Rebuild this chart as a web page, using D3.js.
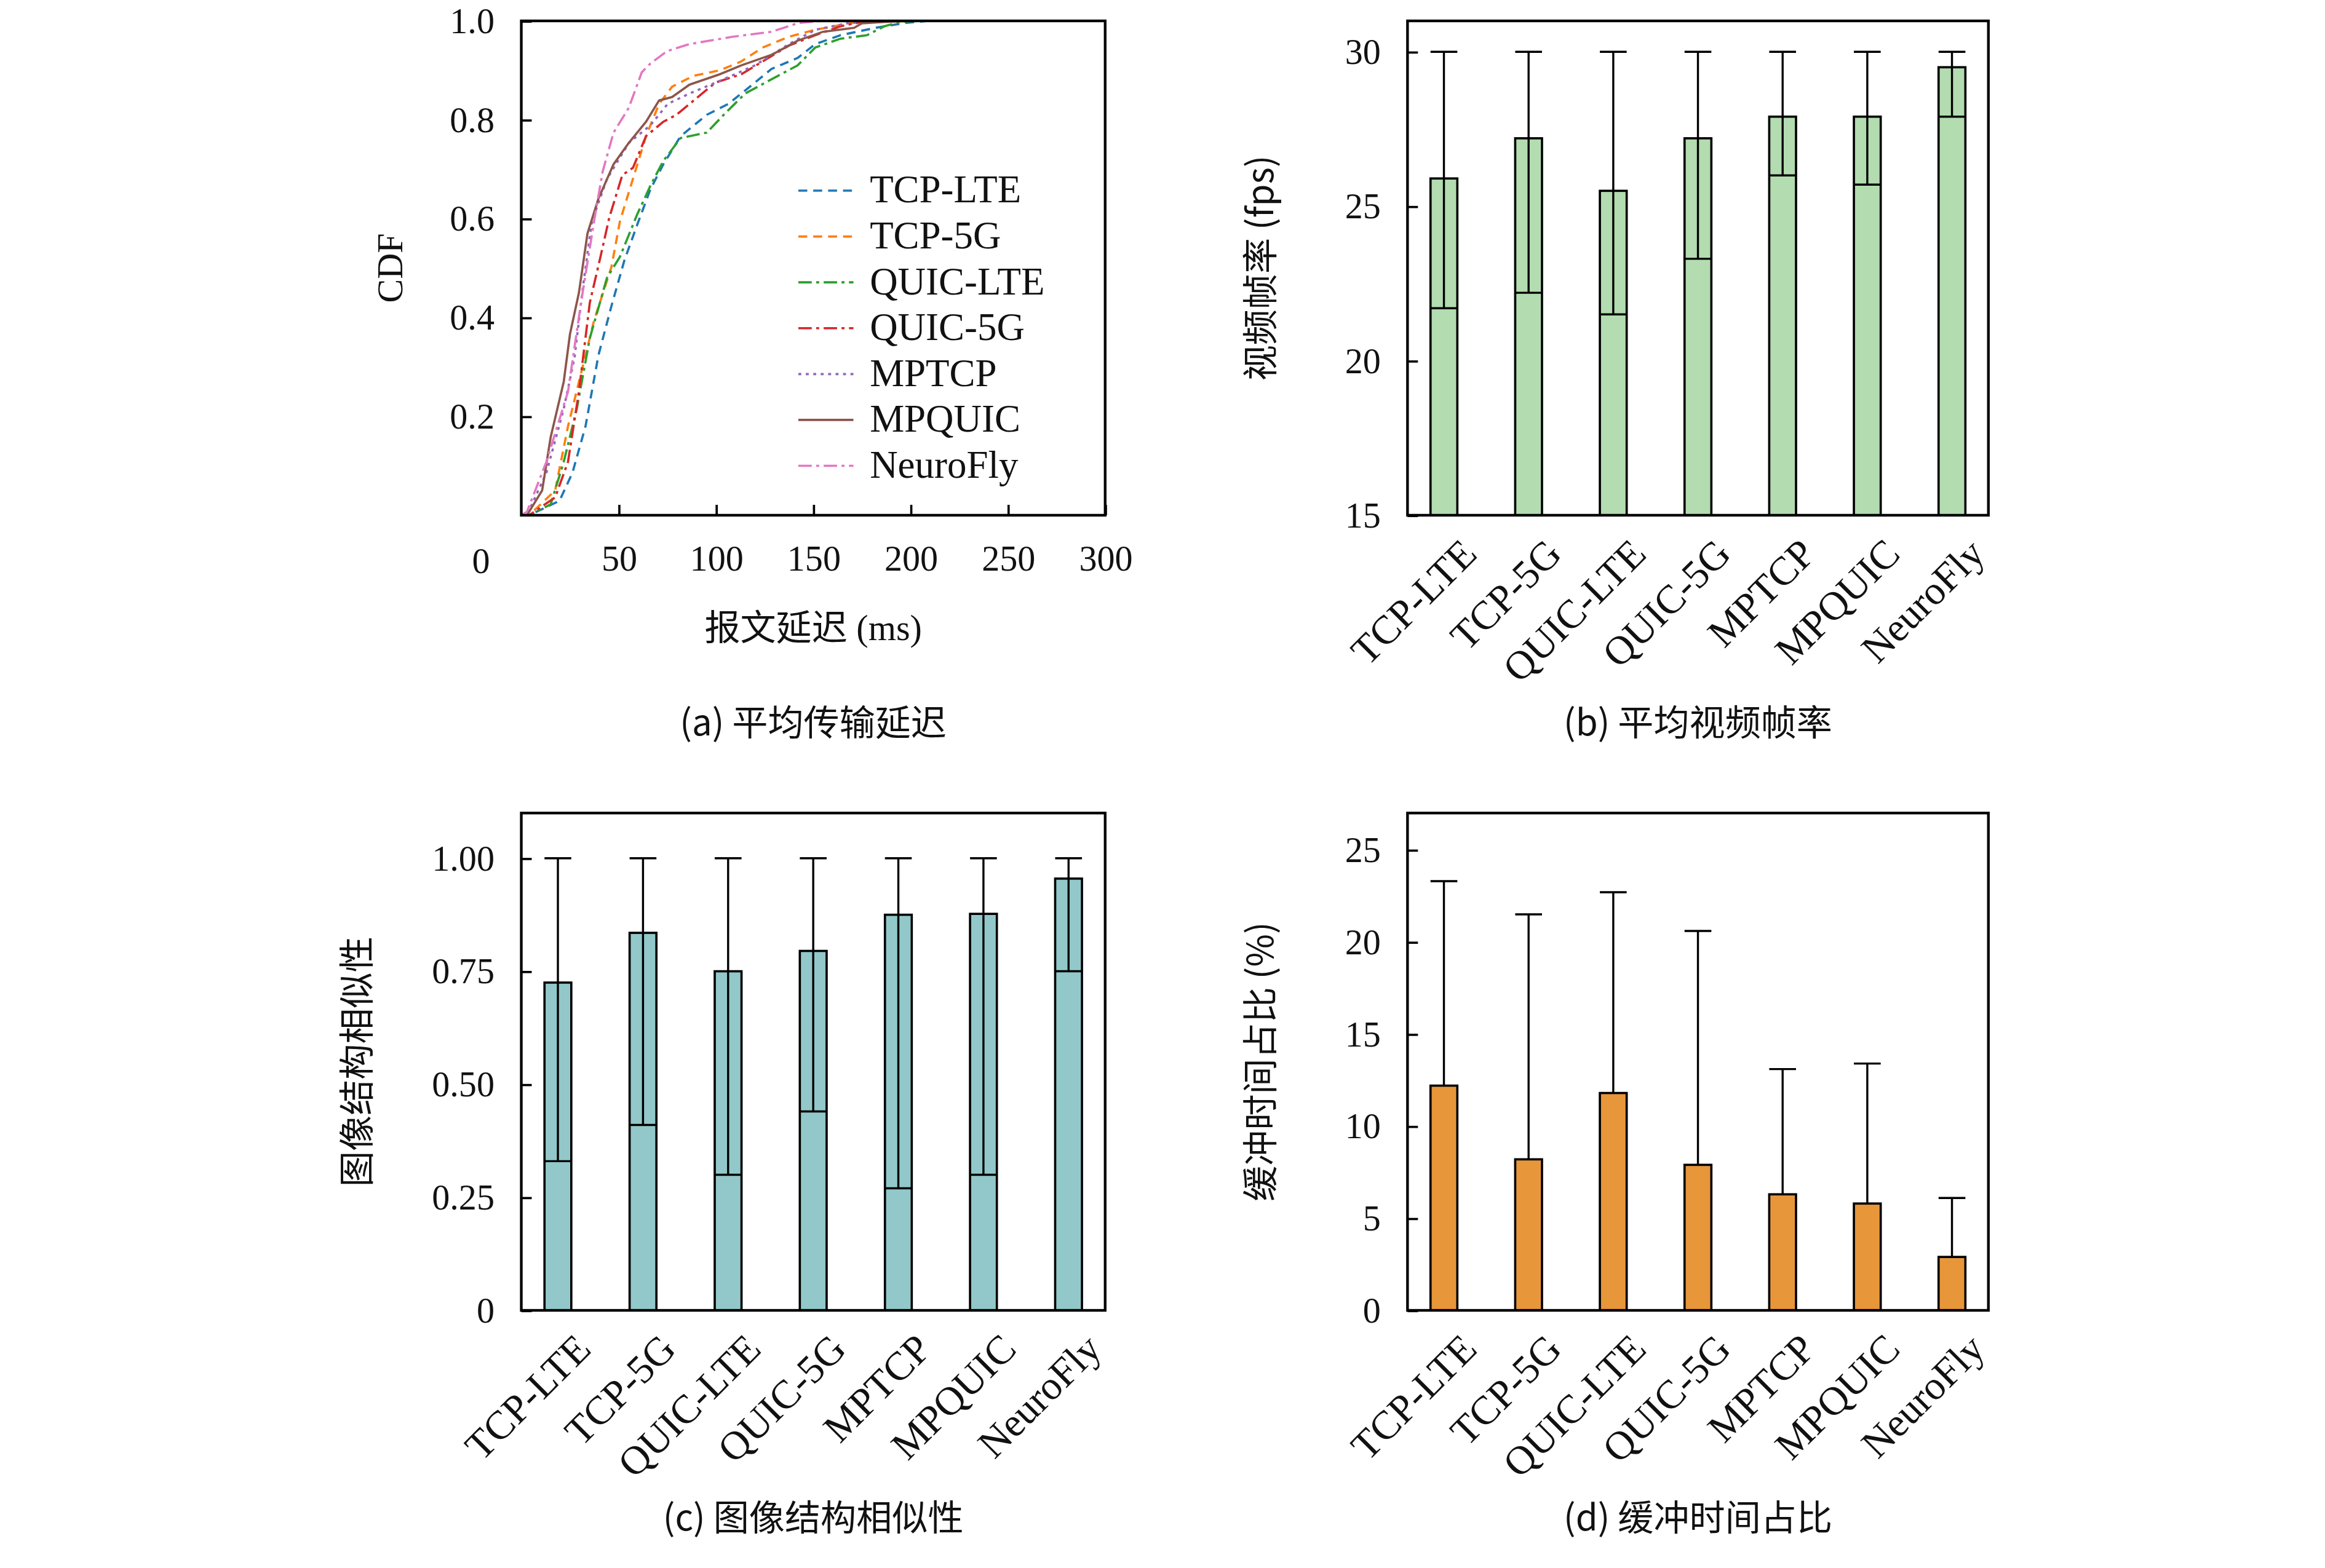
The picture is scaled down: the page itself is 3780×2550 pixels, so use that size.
<!DOCTYPE html>
<html><head><meta charset="utf-8">
<script src="https://cdn.jsdelivr.net/npm/d3@7"></script>
<style>body{margin:0;background:#fff}text{font-family:"Liberation Serif","DejaVu Serif",serif;fill:#111}.cjk{font-family:"Noto Sans CJK SC",sans-serif}</style>
</head><body><svg id="c" width="3780" height="2550" viewBox="0 0 1561 1053"></svg>
<script>
const methods = ["TCP-LTE","TCP-5G","QUIC-LTE","QUIC-5G","MPTCP","MPQUIC","NeuroFly"];
const cdfTCPLTE = [[0,0],[4,0],[19.6,0.029],[26.3,0.086],[33,0.18],[39.6,0.323],[46.3,0.423],[53,0.516],[59.6,0.588],[66.4,0.66],[73,0.71],[81.9,0.767],[95.3,0.81],[106.4,0.832],[120,0.875],[128.6,0.903],[142,0.925],[151,0.953],[164,0.971],[182,0.986],[197.6,0.996],[208.8,1],[300,1]];
const cdfTCP5G = [[0,0],[4,0],[17.4,0.05],[24,0.18],[30.7,0.287],[37.4,0.394],[46.3,0.502],[50.7,0.595],[57.4,0.681],[64.1,0.767],[70.8,0.832],[77.5,0.867],[88.6,0.889],[102,0.9],[113,0.918],[124,0.946],[137.5,0.968],[151,0.982],[168.7,0.995],[182,1],[300,1]];
const cdfQUICLTE = [[0,0],[4,0],[15.1,0.022],[21.8,0.108],[28.5,0.215],[35.2,0.358],[44,0.48],[50.7,0.523],[59.6,0.609],[66.4,0.667],[73,0.717],[81.9,0.763],[95.3,0.774],[104,0.81],[115,0.853],[128.6,0.882],[142,0.91],[151,0.946],[164,0.964],[177.6,0.971],[186.5,0.989],[195,0.998],[204,1],[300,1]];
const cdfQUIC5G = [[0,0],[4,0],[17.4,0.036],[24,0.108],[29.6,0.25],[35.2,0.43],[40.7,0.523],[45.2,0.602],[51.9,0.688],[57.4,0.703],[64.1,0.767],[73,0.796],[79.7,0.81],[88.6,0.839],[99.7,0.875],[113,0.892],[124,0.918],[137.5,0.95],[151,0.971],[164,0.989],[175,0.998],[186.5,1],[300,1]];
const cdfMPTCP = [[0,0],[2.9,0],[12.9,0.086],[21.8,0.215],[27.4,0.32],[31.8,0.466],[36.3,0.595],[44,0.68],[55.2,0.753],[66.4,0.789],[75.2,0.832],[86.4,0.853],[104,0.882],[120,0.91],[137.5,0.953],[151,0.982],[168.7,0.996],[186.5,1],[300,1]];
const cdfMPQUIC = [[0,0],[2.9,0],[10.7,0.05],[15.1,0.158],[21.8,0.27],[25,0.366],[29.6,0.45],[34,0.57],[39.6,0.64],[47.4,0.71],[55.2,0.753],[64.1,0.796],[70.8,0.839],[77.5,0.846],[86.4,0.871],[102,0.892],[113,0.91],[129,0.932],[142,0.96],[155,0.978],[171,0.986],[175,0.995],[186.5,0.998],[200,1],[300,1]];
const cdfNeuroFly = [[0,0],[2.9,0.007],[12.9,0.108],[24,0.25],[30.7,0.43],[37.4,0.595],[41.8,0.695],[47.4,0.774],[55.2,0.824],[61.9,0.896],[66.4,0.914],[75,0.939],[86.4,0.953],[108.6,0.968],[128.6,0.978],[142.6,0.996],[155,1],[300,1]];
const cdfSeries = [cdfTCPLTE,cdfTCP5G,cdfQUICLTE,cdfQUIC5G,cdfMPTCP,cdfMPQUIC,cdfNeuroFly];
const cdfColors = ["#1f77b4","#ff7f0e","#2ca02c","#d62728","#9467bd","#8c564b","#e377c2"];
const cdfDash = ["6,4","6,4","9,3,2,3","9,3,2,3","2,3","none","9,3,2,3"];
const fpsMean = [25.9,27.2,25.5,27.2,27.9,27.9,29.5];
const fpsLow = [21.7,22.2,21.5,23.3,26.0,25.7,27.9];
const fpsHigh = [30,30,30,30,30,30,30];
const ssimMean = [0.725,0.835,0.75,0.795,0.875,0.877,0.955];
const ssimLow = [0.33,0.41,0.30,0.44,0.27,0.30,0.75];
const ssimHigh = [1,1,1,1,1,1,1];
const bufMean = [12.2,8.2,11.8,7.9,6.3,5.8,2.9];
const bufHigh = [23.3,21.5,22.7,20.6,13.1,13.4,6.1];
const bufLow = [0,0,0,0,0,0,0];

const svg = d3.select("#c");
const FS = 24;
function frame(x0,y0,x1,y1){svg.append("rect").attr("x",x0).attr("y",y0).attr("width",x1-x0).attr("height",y1-y0).attr("fill","none").attr("stroke","#000").attr("stroke-width",1.8);}
function yaxis(y,x0,ticks,fmt){
  const g=svg.append("g").attr("transform",`translate(${x0},0)`).call(d3.axisLeft(y).tickValues(ticks).tickFormat(fmt).tickSize(-7).tickPadding(18));
  g.select(".domain").remove();
  g.selectAll("line").attr("stroke","#000").attr("stroke-width",1.5);
  g.selectAll("text").attr("font-size",FS).style("font-family","Liberation Serif,serif");
}
function ylabel(t,x,y){svg.append("text").attr("class","cjk").attr("transform",`translate(${x},${y}) rotate(-90)`).attr("text-anchor","middle").attr("font-size",FS).text(t);}
function caption(t,x,y){svg.append("text").attr("class","cjk").attr("x",x).attr("y",y).attr("text-anchor","middle").attr("font-size",FS).text(t);}

// (a)
{
  const x=d3.scaleLinear().domain([0,300]).range([350,742]);
  const y=d3.scaleLinear().domain([0,1]).range([346,14]);
  const line=d3.line().x(d=>x(d[0])).y(d=>y(d[1]));
  cdfSeries.forEach((s,i)=>svg.append("path").attr("d",line(s)).attr("fill","none").attr("stroke",cdfColors[i]).attr("stroke-width",1.5).attr("stroke-dasharray",cdfDash[i]));
  frame(350,14,742,346);
  yaxis(y,350,[0.2,0.4,0.6,0.8,1.0],d3.format(".1f"));
  const gx=svg.append("g").attr("transform","translate(0,346)").call(d3.axisBottom(x).tickValues([50,100,150,200,250,300]).tickSize(-7).tickPadding(20));
  gx.select(".domain").remove();gx.selectAll("line").attr("stroke","#000").attr("stroke-width",1.5);
  gx.selectAll("text").attr("font-size",FS).style("font-family","Liberation Serif,serif");
  svg.append("text").attr("x",323).attr("y",385).attr("text-anchor","middle").attr("font-size",FS).text("0");
  svg.append("text").attr("transform","translate(270,180) rotate(-90)").attr("text-anchor","middle").attr("font-size",FS).text("CDF");
  svg.append("text").attr("x",546).attr("y",430).attr("text-anchor","middle").attr("font-size",FS).html('<tspan class="cjk">报文延迟</tspan> (ms)');
  methods.forEach((m,i)=>{const yy=128+i*30.8;
    svg.append("line").attr("x1",536).attr("x2",573).attr("y1",yy).attr("y2",yy).attr("stroke",cdfColors[i]).attr("stroke-width",1.5).attr("stroke-dasharray",cdfDash[i]);
    svg.append("text").attr("x",584).attr("y",yy+8).attr("font-size",FS+2).text(m);});
  caption("(a) 平均传输延迟",546,494);
}
function barPanel(x0,x1,y0,y1,dom,ticks,fmt,mean,low,high,color,lab,labx,cap,showLow){
  const x=d3.scalePoint().domain(methods).range([x0,x1]).padding(0.43);
  const y=d3.scaleLinear().domain(dom).range([y1,y0]);
  const w=18;
  methods.forEach((m,i)=>{
    const cx=x(m);
    svg.append("rect").attr("x",cx-w/2).attr("y",y(mean[i])).attr("width",w).attr("height",y(dom[0])-y(mean[i])).attr("fill",color).attr("stroke","#000").attr("stroke-width",1.5);
    svg.append("line").attr("x1",cx).attr("x2",cx).attr("y1",y(showLow?low[i]:mean[i])).attr("y2",y(high[i])).attr("stroke","#000").attr("stroke-width",1.4);
    svg.append("line").attr("x1",cx-9).attr("x2",cx+9).attr("y1",y(high[i])).attr("y2",y(high[i])).attr("stroke","#000").attr("stroke-width",1.4);
    if(showLow) svg.append("line").attr("x1",cx-9).attr("x2",cx+9).attr("y1",y(low[i])).attr("y2",y(low[i])).attr("stroke","#000").attr("stroke-width",1.4);
    svg.append("text").attr("transform",`translate(${cx+10},${y1+14}) rotate(-45)`).attr("text-anchor","end").attr("dy","0.7em").attr("font-size",FS+3).text(m);
  });
  frame(x0,y0,x1,y1);
  yaxis(y,x0,ticks,fmt);
  ylabel(lab,labx,(y0+y1)/2);
  caption(cap,(x0+x1)/2,y1+148);
}
barPanel(945,1335,14,346,[15,31],[15,20,25,30],d3.format("d"),fpsMean,fpsLow,fpsHigh,"#b3dcb0","视频帧率 (fps)",855,"(b) 平均视频帧率",true);
barPanel(350,742,546,880,[0,1.1],[0,0.25,0.5,0.75,1],d=>d===0?"0":d3.format(".2f")(d),ssimMean,ssimLow,ssimHigh,"#92c8c9","图像结构相似性",248,"(c) 图像结构相似性",true);
barPanel(945,1335,546,880,[0,27],[0,5,10,15,20,25],d3.format("d"),bufMean,bufLow,bufHigh,"#e8963a","缓冲时间占比 (%)",855,"(d) 缓冲时间占比",false);
</script></body></html>
